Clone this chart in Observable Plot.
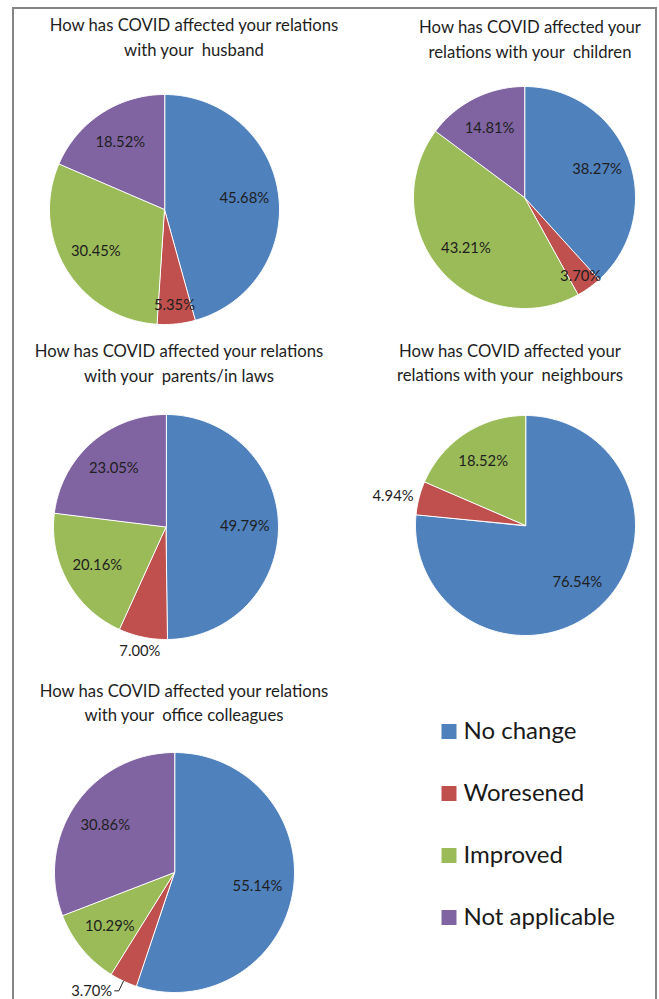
<!DOCTYPE html>
<html>
<head>
<meta charset="utf-8">
<script src="https://cdn.jsdelivr.net/npm/d3@7"></script>
<script src="https://cdn.jsdelivr.net/npm/@observablehq/plot@0.6"></script>
<style>
  html, body { margin: 0; padding: 0; background: #fff; }
  #root { position: relative; width: 659px; height: 999px; overflow: hidden; font-family: Lato, "Open Sans", sans-serif; }
  .frame { position: absolute; left: 12px; top: 7px; width: 645px; height: 1010px; box-sizing: border-box; border: 2px solid #858585; }
  .title { position: absolute; width: 380px; text-align: center; white-space: pre; font-size: 16.7px; color: #1e1e1e; }
  .panel { position: absolute; }
  .panel svg { overflow: visible; }
</style>
</head>
<body>
<div id="root"><div class="frame"></div></div>
<script>
// ---- data ----
const categories = ["No change", "Woresened", "Improved", "Not applicable"];
const colors = ["#4F81BD", "#C0504D", "#9BBB59", "#8064A2"];

const husband    = [45.68, 5.35, 30.45, 18.52];
const children   = [38.27, 3.70, 43.21, 14.81];
const parents    = [49.79, 7.00, 20.16, 23.05];
const neighbours = [76.54, 4.94, 18.52, 0];
const colleagues = [55.14, 3.70, 10.29, 30.86];

const titles = [
  ["How has COVID affected your relations", "with your  husband"],
  ["How has COVID affected your", "relations with your  children"],
  ["How has COVID affected your relations", "with your  parents/in laws"],
  ["How has COVID affected your", "relations with your  neighbours"],
  ["How has COVID affected your relations", "with your  office colleagues"]
];
const series = [husband, children, parents, neighbours, colleagues];

// ---- layout (page pixels) ----
const layout = [
  {cx: 164,   cy: 208.5, r: 115,   tx: 194, ty: 25,  lh: 25},
  {cx: 524,   cy: 196.5, r: 111,   tx: 530, ty: 27,  lh: 25},
  {cx: 165.5, cy: 526.5, r: 112.5, tx: 179, ty: 351, lh: 25},
  {cx: 525,   cy: 524.5, r: 110,   tx: 510, ty: 351, lh: 24},
  {cx: 174,   cy: 872,   r: 120,   tx: 184, ty: 691, lh: 24}
];
// label placement rules for small slices (per pie, category index 1)
const smallLabel = [
  {mode: "inside", k: 0.84},
  {mode: "inside", k: 0.87},
  {mode: "outside", k: 1.13, anchor: "middle"},
  {mode: "outside", k: 1.05, anchor: "end"},
  {mode: "leader"}
];

const root = document.getElementById("root");
const fmt = v => d3.format(".2f")(v) + "%";
const PAD = 55;

series.forEach((values, pi) => {
  const L = layout[pi];
  const arcs = d3.pie().sort(null)(values);
  const wedges = [];
  const labels = [];
  const leaders = [];
  arcs.forEach((a, i) => {
    if (a.value <= 0) return;
    const cat = categories[i];
    wedges.push({cat, x: 0, y: 0});
    const n = Math.max(2, Math.ceil((a.endAngle - a.startAngle) / (Math.PI / 180)) + 1);
    for (let j = 0; j < n; j++) {
      const t = a.startAngle + (a.endAngle - a.startAngle) * j / (n - 1);
      wedges.push({cat, x: Math.sin(t), y: Math.cos(t)});
    }
    const mid = (a.startAngle + a.endAngle) / 2;
    const ux = Math.sin(mid), uy = Math.cos(mid);
    let k = 0.70, anchor = "middle";
    let lx, ly;
    if (i === 1) {
      const s = smallLabel[pi];
      if (s.mode === "leader") {
        const p1 = {x: ux * 1.09, y: uy * 1.09};
        const p2 = {x: p1.x - 0.035, y: p1.y};
        leaders.push({x: ux, y: uy}, {x: p1.x, y: p1.y}, {x: p2.x, y: p2.y});
        lx = p2.x - 0.02; ly = p2.y; anchor = "end";
      } else {
        k = s.k; anchor = s.anchor || "middle";
      }
    }
    if (lx === undefined) { lx = ux * k; ly = uy * k; }
    labels.push({x: lx, y: ly, text: fmt(a.value), anchor});
  });

  const ext = (L.r + PAD) / L.r;
  const S = 2 * (L.r + PAD);
  const marks = [
    Plot.line(wedges, {x: "x", y: "y", z: "cat", fill: "cat", stroke: "white", strokeWidth: 1, curve: "linear-closed"})
  ];
  if (leaders.length) {
    marks.push(Plot.line(leaders, {x: "x", y: "y", stroke: "#222", strokeWidth: 1}));
  }
  ["middle", "end", "start"].forEach(anc => {
    const sub = labels.filter(d => d.anchor === anc);
    if (sub.length) marks.push(Plot.text(sub, {x: "x", y: "y", text: "text", textAnchor: anc, fill: "#1e1e1e", fontSize: 14.8}));
  });

  const chart = Plot.plot({
    width: S, height: S,
    margin: 0,
    x: {domain: [-ext, ext], axis: null},
    y: {domain: [-ext, ext], axis: null},
    color: {domain: categories, range: colors},
    style: {fontFamily: "Lato, sans-serif", overflow: "visible", background: "transparent"},
    marks
  });
  const wrap = document.createElement("div");
  wrap.className = "panel";
  wrap.style.left = (L.cx - S / 2) + "px";
  wrap.style.top = (L.cy - S / 2) + "px";
  wrap.style.width = S + "px";
  wrap.style.height = S + "px";
  wrap.appendChild(chart);
  root.appendChild(wrap);

  const t = document.createElement("div");
  t.className = "title";
  t.style.left = (L.tx - 190) + "px";
  t.style.top = (L.ty - L.lh / 2) + "px";
  t.style.lineHeight = L.lh + "px";
  t.textContent = titles[pi].join("\n");
  root.appendChild(t);
});

// ---- legend ----
const legend = Plot.plot({
  width: 220, height: 250,
  margin: 0,
  y: {type: "point", domain: categories, range: [30, 218], padding: 0, axis: null},
  color: {domain: categories, range: colors},
  style: {fontFamily: "Lato, sans-serif", overflow: "visible", background: "transparent"},
  marks: [
    Plot.dot(categories, {y: d => d, fill: d => d, symbol: "square", r: 8.46, frameAnchor: "left", dx: 18.5}),
    Plot.text(categories, {y: d => d, text: d => d, frameAnchor: "left", dx: 33, textAnchor: "start", fontSize: 24, fill: "#1a1a1a"})
  ]
});
const lw = document.createElement("div");
lw.className = "panel";
lw.style.left = "430px";
lw.style.top = "700px";
lw.style.width = "220px";
lw.appendChild(legend);
root.appendChild(lw);
</script>
</body>
</html>
